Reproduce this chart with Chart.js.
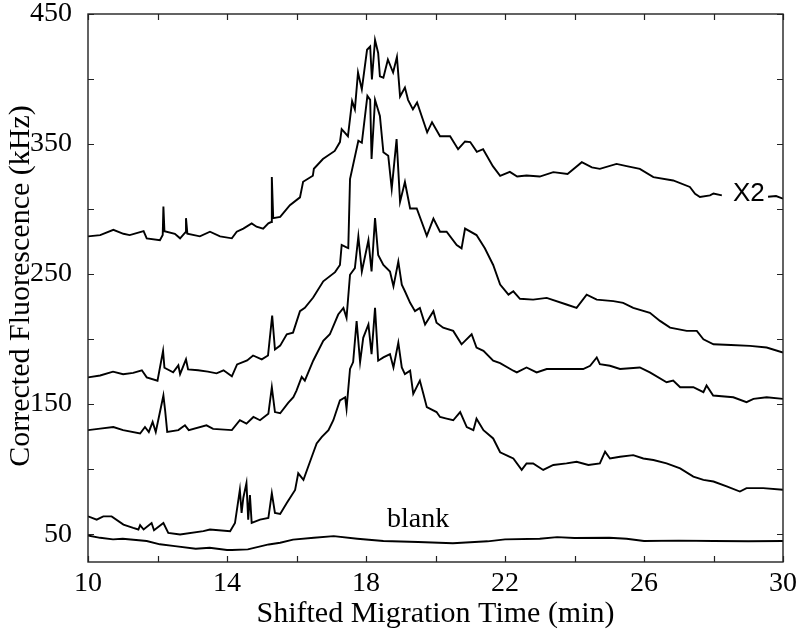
<!DOCTYPE html>
<html>
<head>
<meta charset="utf-8">
<script src="https://cdn.jsdelivr.net/npm/chart.js@4.4.1/dist/chart.umd.min.js"></script>
<style>
  html, body { margin: 0; padding: 0; background: #fff; }
  #chart { display: block; }
</style>
</head>
<body>
<canvas id="chart" width="800" height="635"></canvas>
<script>
// tick labels / tick marks
const xTickLabels = [10, 14, 18, 22, 26, 30];
const yTickLabels = [50, 150, 250, 350, 450];
const xMinorTicks = [12, 16, 20, 24, 28];
const yMinorTicks = [100, 200, 300, 400];

// top trace (x2), gap where the label sits
const aTime = [10, 10.35, 10.73, 11.02, 11.2, 11.6, 11.69, 12.07, 12.15, 12.17, 12.2, 12.5, 12.65, 12.8, 12.82, 12.86,
  13.22, 13.51, 13.8, 14.14, 14.28, 14.47, 14.71, 14.85, 15.04, 15.19, 15.27, 15.29, 15.33, 15.53, 15.81, 16.1,
  16.19, 16.47, 16.5, 16.76, 17.1, 17.25, 17.3, 17.48, 17.6, 17.68, 17.77, 17.88, 18.03, 18.12, 18.17, 18.26,
  18.35, 18.4, 18.5, 18.63, 18.78, 18.89, 18.98, 19.12, 19.21, 19.35, 19.47, 19.76, 19.9, 20.13, 20.42, 20.65,
  20.85, 21.0, 21.19, 21.37, 21.65, 21.86, 22.14, 22.35, 22.62, 23.0, 23.39, 23.8, 24.21, 24.5, 24.73, 25.21,
  25.5, 25.88, 26.27, 26.84, 27.32, 27.47, 27.61, 27.9, 28.0, 28.24, 28.9, 29.57, 29.8, 30];
const aSignal = [279, 280, 284, 281, 280, 283, 277.5, 276, 280, 302, 283, 281, 277.5, 282, 293, 281,
  279, 282.6, 279, 277.5, 282.6, 285, 289, 286.4, 285, 289, 290, 324.6, 293, 294, 303, 309,
  321, 325.6, 331, 338.5, 344.7, 351.5, 361.5, 356, 383, 376.7, 405, 392, 422.5, 425, 399.6, 430,
  420, 402, 401, 415, 405, 417, 386.6, 393.5, 384, 376.7, 382, 359, 366.8, 356, 356, 346,
  352, 351.5, 344, 346, 333, 325.6, 328.6, 325, 325.8, 325, 328.4, 327, 336, 332, 330.9, 334.7,
  333, 330.9, 324.6, 322, 317, 311.8, 309.3, 310.5, 312, 310.5, null, 309.5, 310, 308];

// second trace
const bTime = [10, 10.35, 10.72, 11.01, 11.3, 11.55, 11.69, 12.0, 12.16, 12.2, 12.45, 12.6, 12.65, 12.82, 12.88,
  13.17, 13.45, 13.7, 13.9, 14.14, 14.29, 14.58, 14.75, 15.0, 15.18, 15.3, 15.38, 15.53, 15.72, 15.9, 16.1,
  16.24, 16.48, 16.77, 17.11, 17.25, 17.3, 17.44, 17.49, 17.54, 17.78, 17.88, 18.04, 18.12, 18.16, 18.26,
  18.4, 18.5, 18.64, 18.74, 18.88, 18.98, 19.12, 19.27, 19.46, 19.75, 19.94, 20.13, 20.32, 20.61, 20.75,
  20.85, 21.18, 21.42, 21.66, 21.86, 22.1, 22.24, 22.43, 22.81, 23.2, 23.77, 24.06, 24.35, 24.64, 25.12,
  25.4, 25.69, 26.17, 26.46, 26.75, 27.23, 27.52, 27.71, 28.0, 28.5, 29.05, 29.53, 30];
const bSignal = [170.6, 172, 175, 173, 174, 176, 170.6, 168, 191, 178, 174.4, 179.8, 173, 184.4, 176.7,
  176, 175, 173.7, 176, 171.4, 180.5, 183.6, 187.4, 184.4, 187.4, 218, 192, 195, 203.7, 205, 221.5,
  224, 232, 244.4, 251.5, 257, 272.4, 270.5, 270, 323, 352.5, 351, 387, 384, 338.5, 384,
  371.6, 343.7, 341, 315.6, 353.8, 305.5, 320.8, 300.4, 300.4, 279.5, 292.7, 282.6, 282.6, 272.4, 269.8,
  285, 280, 269.8, 257, 242, 234.2, 236.8, 231, 230.4, 231.7, 226.6, 224, 234.2, 230.4, 229.2,
  227.9, 224, 220.2, 214, 208.8, 206.3, 206.3, 199.9, 196, 195.5, 194.8, 193.5, 189.7];

// third trace
const cTime = [10, 10.35, 10.73, 11.01, 11.5, 11.64, 11.75, 11.86, 11.95, 12.17, 12.22, 12.28, 12.6, 12.79, 12.9,
  13.41, 13.6, 14.14, 14.37, 14.56, 14.76, 14.95, 15.19, 15.29, 15.38, 15.53, 15.76, 15.91, 16.0, 16.15,
  16.24, 16.48, 16.77, 16.96, 17.2, 17.35, 17.44, 17.54, 17.68, 17.78, 17.88, 18.07, 18.16, 18.26, 18.35,
  18.5, 18.69, 18.79, 18.93, 19.03, 19.12, 19.27, 19.41, 19.55, 19.7, 19.94, 20.03, 20.22, 20.51, 20.75,
  21.04, 21.18, 21.38, 21.66, 21.86, 22.24, 22.34, 22.62, 22.91, 23.2, 23.77, 24.25, 24.45, 24.64, 24.73,
  25.02, 25.31, 25.88, 26.17, 26.65, 26.84, 27.04, 27.42, 27.71, 27.8, 27.99, 28.57, 28.95, 29.15, 29.53, 30];
const cSignal = [130, 131.2, 132.4, 130, 127.4, 132.4, 128.6, 136.3, 128.6, 156.6, 145, 128.6, 130, 133.7, 130,
  133.7, 131, 130, 137.6, 135, 140.1, 137.6, 142.6, 163, 143.9, 143, 151, 155.3, 160.4, 171,
  168.1, 183.4, 198.6, 203.7, 218.9, 224, 216.4, 249.5, 254.6, 279, 252, 276, 252, 293, 264.7,
  257, 252, 240.6, 259.7, 241.9, 236.8, 227.9, 221.5, 224, 211.3, 221.5, 212.6, 208.8, 206.3, 196,
  203.7, 193.5, 191, 183.4, 181.5, 175.7, 174.4, 178.2, 174.4, 177, 177, 177, 179.5, 185.9, 180.8,
  179.5, 177, 178.2, 174.4, 166.8, 168.1, 163, 163, 159.2, 164.3, 156.6, 155.3, 151.5, 154, 155.3, 154];

// fourth trace
const dTime = [10, 10.25, 10.44, 10.68, 11.02, 11.3, 11.45, 11.5, 11.6, 11.83, 11.9, 12.17, 12.31, 12.65, 13.32,
  13.51, 14.09, 14.23, 14.37, 14.42, 14.47, 14.56, 14.61, 14.66, 14.71, 14.95, 15.19, 15.29, 15.38, 15.53,
  15.72, 15.96, 16.05, 16.2, 16.44, 16.58, 16.73, 16.92, 17.06, 17.25, 17.4, 17.44, 17.54, 17.63, 17.73,
  17.83, 17.92, 18.07, 18.16, 18.26, 18.35, 18.5, 18.69, 18.79, 18.93, 19.03, 19.12, 19.27, 19.36, 19.55,
  19.65, 19.75, 20.03, 20.13, 20.32, 20.51, 20.71, 20.9, 21.09, 21.18, 21.38, 21.66, 21.86, 22.14, 22.24,
  22.48, 22.62, 22.81, 23.1, 23.39, 23.77, 24.06, 24.4, 24.73, 24.88, 25.02, 25.31, 25.69, 25.98, 26.27,
  26.65, 27.04, 27.42, 27.71, 28.0, 28.38, 28.76, 28.95, 29.43, 30];
const dSignal = [63.7, 61.2, 63.7, 63.7, 57.4, 54.8, 53.6, 57, 53.6, 58.6, 53, 58.6, 51, 49.8, 52.3,
  53.6, 52.3, 58.6, 84, 66.3, 78, 89.2, 61.2, 80, 58.6, 61.2, 62.4, 81.5, 66.3, 65.5,
  73.9, 84, 96.8, 91.8, 109.5, 119.7, 124.8, 130, 137.6, 152.8, 155.3, 146.4, 177.1, 182.3, 213.9,
  182.3, 201, 211.3, 188.5, 224, 183.4, 185.9, 188.5, 178.2, 197.3, 178.2, 173.1, 175.7, 157.9, 168.1,
  157.9, 147.7, 143.9, 140.1, 138.8, 137.6, 143.9, 132.4, 130, 138.8, 130, 123.6, 113, 109.5, 108.2,
  99.4, 104.4, 104.4, 99.4, 103.2, 104.4, 105.7, 103.2, 104.4, 113.4, 108.2, 109.5, 110.8, 108.2, 107,
  104.4, 100.6, 94.3, 91.8, 90.5, 86.7, 82.8, 85.4, 85.4, 84.1];

// blank run
const blankTime = [10, 10.35, 10.72, 11.0, 11.69, 12.07, 12.5, 13.1, 13.5, 14.0, 14.14, 14.6, 15.2, 15.53, 15.9,
  16.5, 17.07, 17.75, 18.5, 19.5, 20.5, 21.5, 22.0, 23.0, 23.5, 24.0, 25.0, 25.5, 26.0, 27.0, 28.0, 29.0, 30];
const blankSignal = [49, 47.2, 46, 46.5, 44.7, 42.2, 40.8, 38.8, 39.6, 37.8, 37.8, 38.3, 42.1, 43.4, 45.8,
  47.2, 48.5, 46.5, 44.7, 44, 43, 44.5, 46, 46.5, 47.7, 47, 47.2, 46.5, 44.7, 45, 44.7, 44.5, 44.7];

// text labels placed in data units
const notes = [
  { text: "blank", x: 19.5, y: 55.3, align: "center", font: '28px "Liberation Serif"' },
  { text: "X2", x: 28.56, y: 306.5, align: "left", font: '26px "Liberation Sans"' }
];

function toPoints(xs, ys) {
  return xs.map((x, i) => ({ x: x, y: ys[i] }));
}

function trace(xs, ys) {
  return {
    data: toPoints(xs, ys),
    borderColor: "#000",
    borderWidth: 1.9,
    pointRadius: 0,
    tension: 0,
    spanGaps: false,
    fill: false
  };
}

const tickFont = { family: "Liberation Serif", size: 28, lineHeight: 1 };

const framePlugin = {
  id: "frame",
  afterDraw(chart) {
    const ctx = chart.ctx;
    const area = chart.chartArea;
    const xs = chart.scales.x;
    const ys = chart.scales.y;
    const len = 6;

    ctx.save();
    ctx.strokeStyle = "#222";
    ctx.lineWidth = 1.4;
    ctx.strokeRect(area.left, area.top, area.right - area.left, area.bottom - area.top);

    ctx.lineWidth = 1.2;
    ctx.beginPath();
    xTickLabels.concat(xMinorTicks).forEach(v => {
      const px = Math.round(xs.getPixelForValue(v)) + 0.5;
      ctx.moveTo(px, area.bottom); ctx.lineTo(px, area.bottom - len);
      ctx.moveTo(px, area.top); ctx.lineTo(px, area.top + len);
    });
    yTickLabels.concat(yMinorTicks).forEach(v => {
      const py = Math.round(ys.getPixelForValue(v)) + 0.5;
      ctx.moveTo(area.left, py); ctx.lineTo(area.left + len, py);
      ctx.moveTo(area.right, py); ctx.lineTo(area.right - len, py);
    });
    ctx.stroke();

    // axis titles
    ctx.fillStyle = "#000";
    ctx.font = '30px "Liberation Serif"';
    ctx.textAlign = "center";
    ctx.textBaseline = "alphabetic";
    ctx.fillText("Shifted Migration Time (min)", (area.left + area.right) / 2, 622);
    ctx.save();
    ctx.translate(29, (area.top + area.bottom) / 2 - 2);
    ctx.rotate(-Math.PI / 2);
    ctx.fillText("Corrected Fluorescence (kHz)", 0, 0);
    ctx.restore();

    notes.forEach(n => {
      ctx.font = n.font;
      ctx.textAlign = n.align;
      ctx.fillText(n.text, xs.getPixelForValue(n.x), ys.getPixelForValue(n.y));
    });
    ctx.restore();
  }
};

const ctx = document.querySelector("#chart").getContext("2d");

const myChart = new Chart(ctx, {
  type: "line",
  data: {
    datasets: [
      trace(aTime, aSignal),
      trace(bTime, bSignal),
      trace(cTime, cSignal),
      trace(dTime, dSignal),
      trace(blankTime, blankSignal)
    ]
  },
  options: {
    responsive: false,
    animation: false,
    devicePixelRatio: 1,
    layout: { padding: { top: 14, right: 17, left: 0, bottom: 0 } },
    plugins: {
      legend: { display: false },
      tooltip: { enabled: false }
    },
    scales: {
      x: {
        type: "linear",
        min: 10,
        max: 30,
        afterBuildTicks: s => { s.ticks = xTickLabels.map(v => ({ value: v })); },
        afterFit: s => { s.height = 73; s.paddingLeft = 0; s.paddingRight = 0; },
        grid: { display: false },
        border: { display: false },
        ticks: { color: "#000", font: tickFont, padding: 0, maxRotation: 0, autoSkip: false }
      },
      y: {
        type: "linear",
        min: 28.6,
        max: 450,
        afterBuildTicks: s => { s.ticks = yTickLabels.map(v => ({ value: v })); },
        afterFit: s => { s.width = 88; s.paddingTop = 0; s.paddingBottom = 0; },
        grid: { display: false },
        border: { display: false },
        ticks: { color: "#000", font: tickFont, padding: 8, autoSkip: false }
      }
    }
  },
  plugins: [framePlugin]
});
</script>
</body>
</html>
